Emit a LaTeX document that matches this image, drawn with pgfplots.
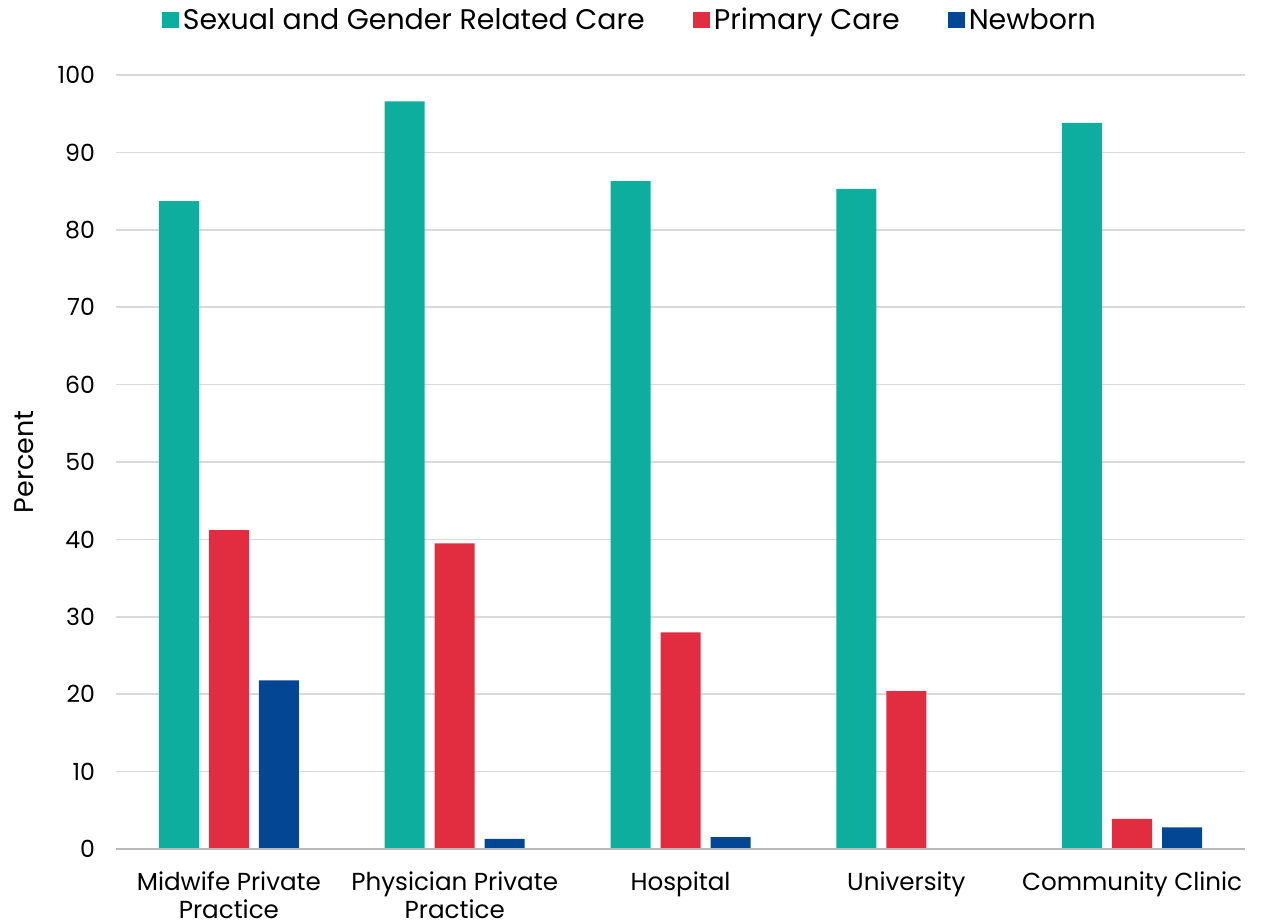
\documentclass[border=0pt]{standalone}
\usepackage{pgfplots}
\pgfplotsset{compat=1.18}
\usepackage{fontspec}
\setmainfont{Poppins}
\usetikzlibrary{calc}
\definecolor{cgreen}{RGB}{14,174,158}
\definecolor{cred}{RGB}{226,44,63}
\definecolor{cblue}{RGB}{3,70,148}
\definecolor{cgrid}{RGB}{217,217,217}
\begin{document}
\begin{tikzpicture}
\begin{axis}[
  name=ax,
  scale only axis,
  width=564.5pt, height=387pt,
  ybar, bar width=20pt,
  ymin=0, ymax=100, ytick={0,10,...,100},
  xmin=-0.5, xmax=4.5,
  xtick={0,1,2,3,4},
  xticklabels={{Midwife Private\\Practice},{Physician Private\\Practice},{Hospital},{University},{Community Clinic}},
  xticklabel style={align=center, font=\fontsize{12.3}{14}\selectfont, yshift=-8pt},
  yticklabel style={font=\fontsize{11.8}{14}\selectfont, xshift=-7pt},
  /pgf/number format/assume math mode=true,
  major tick length=0pt,
  axis line style={draw=none},
  ymajorgrids, grid style={cgrid, line width=0.8pt},
  ylabel={Percent}, ylabel style={font=\fontsize{13.5}{15}\selectfont, yshift=5pt},
  legend style={draw=none, at={(0.456,1.071)}, anchor=center, legend columns=-1,
     font=\fontsize{14.2}{16}\selectfont, /tikz/every even column/.append style={column sep=22pt}},
  legend image code/.code={\fill[#1] (0pt,-4.2pt) rectangle (8.5pt,4.2pt);},
  legend cell align=left,
]
\addplot[fill=cgreen, draw=none, bar shift=-25pt] coordinates {(0,83.7) (1,96.6) (2,86.3) (3,85.3) (4,93.8)};
\addplot[fill=cred, draw=none, bar shift=0pt] coordinates {(0,41.2) (1,39.5) (2,28.0) (3,20.4) (4,3.9)};
\addplot[fill=cblue, draw=none, bar shift=25pt] coordinates {(0,21.8) (1,1.3) (2,1.55) (3,0) (4,2.8)};
\legend{Sexual and Gender Related Care, Primary Care, Newborn}
\draw[cgrid!85!black, line width=0.8pt] (axis cs:-0.5,0) -- (axis cs:4.5,0);
\end{axis}
\pgfresetboundingbox
\useasboundingbox ($(ax.south west)+(-58pt,-36pt)$) rectangle ($(ax.north east)+(13pt,37.5pt)$);
\end{tikzpicture}
\end{document}
